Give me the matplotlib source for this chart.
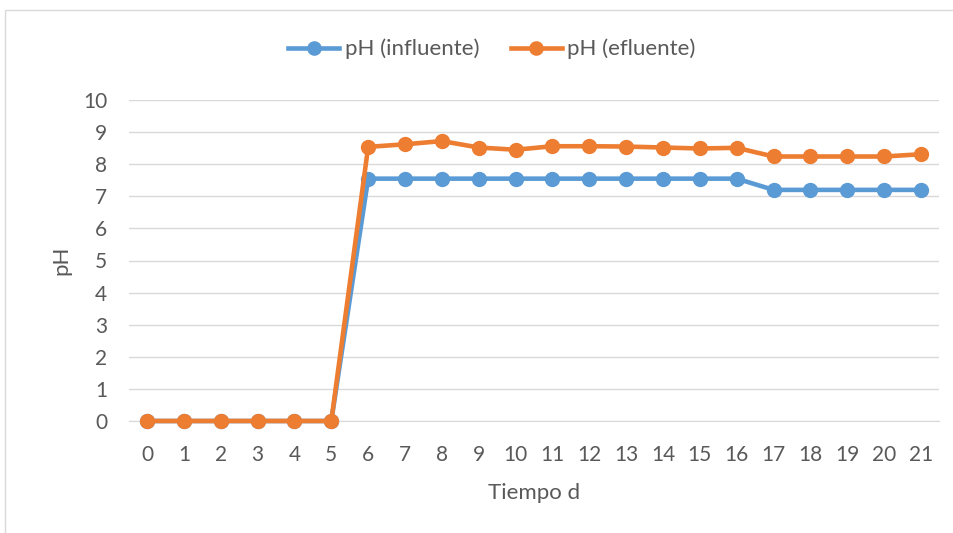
import matplotlib
matplotlib.use("Agg")
import matplotlib.pyplot as plt
from matplotlib.patches import Rectangle

plt.rcParams['font.family'] = ['Lato', 'DejaVu Sans']

days = list(range(22))
ph_influente = [0, 0, 0, 0, 0, 0, 7.55, 7.55, 7.55, 7.55, 7.55, 7.55, 7.55, 7.55, 7.55, 7.55, 7.55,
                7.2, 7.2, 7.2, 7.2, 7.2]
ph_efluente = [0, 0, 0, 0, 0, 0, 8.54, 8.62, 8.72, 8.52, 8.45, 8.56, 8.56, 8.55, 8.52, 8.49, 8.51,
               8.24, 8.24, 8.24, 8.24, 8.31]

W, H = 954, 533
fig = plt.figure(figsize=(W / 100, H / 100), dpi=100)
fig.patch.set_facecolor('white')

# chart border
fig.patches.append(Rectangle((5 / W, -0.1), 1.2, (H - 10) / H + 0.1, transform=fig.transFigure,
                             fill=False, edgecolor='#D9D9D9', linewidth=1.0))

left, right = 128.6 / W, 939.4 / W
bottom, top = 1 - 421 / H, 1 - 100 / H
ax = fig.add_axes([left, bottom, right - left, top - bottom])

blue = '#5B9BD5'
orange = '#ED7D31'
ax.plot(days, ph_influente, color=blue, lw=3.3, marker='o', ms=10, label='pH (influente)',
        solid_joinstyle='round', clip_on=False, zorder=3)
ax.plot(days, ph_efluente, color=orange, lw=3.3, marker='o', ms=10, label='pH (efluente)',
        solid_joinstyle='round', clip_on=False, zorder=4)

ax.set_xlim(-0.5, 21.5)
ax.set_ylim(0, 10)
ax.set_yticks(range(0, 11))
ax.set_xticks(days)
ax.grid(axis='y', color='#D9D9D9', lw=1.0)
ax.set_axisbelow(True)
for s in ['top', 'right', 'left']:
    ax.spines[s].set_visible(False)
ax.spines['bottom'].set_color('#D9D9D9')
ax.tick_params(axis='both', length=0, labelsize=15, colors='#595959')
ax.tick_params(axis='x', pad=17)
ax.tick_params(axis='y', pad=15.5)

ax.set_xlabel('Tiempo d', fontsize=16, color='#595959', labelpad=13)
ax.set_ylabel('pH', fontsize=16, color='#595959', labelpad=8)

fig.legend(loc='center', bbox_to_anchor=(492 / W, 1 - 49 / H), ncol=2, frameon=False,
           fontsize=16, labelcolor='#595959', handlelength=2.3, columnspacing=1.4,
           handletextpad=0.25, markerscale=0.95)

fig.savefig('out.png', dpi=100)
